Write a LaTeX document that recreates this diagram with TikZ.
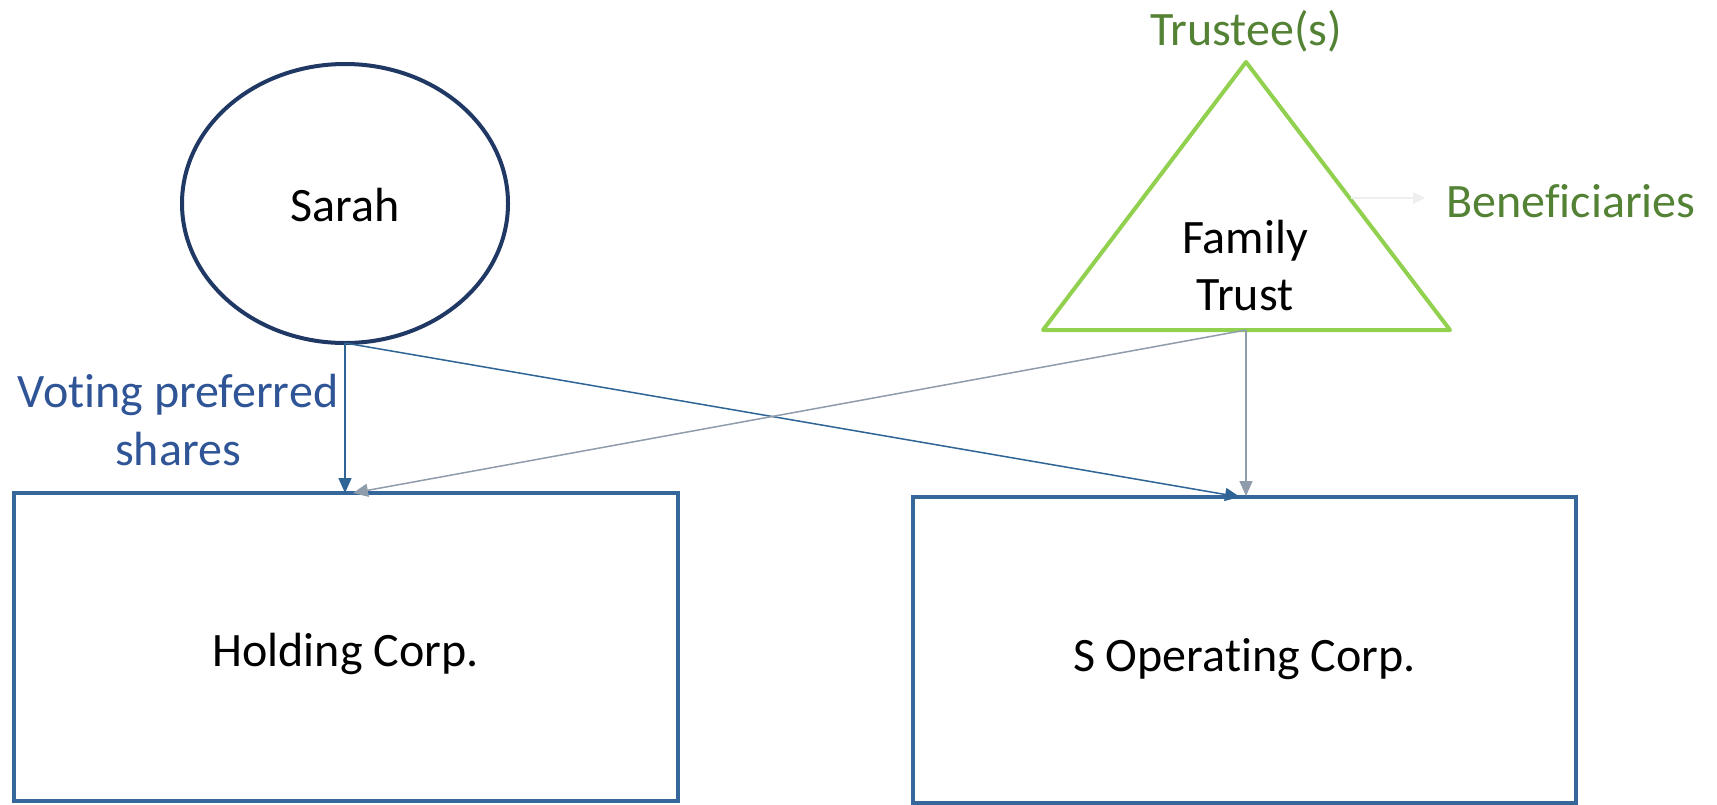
\documentclass[tikz,border=0pt]{standalone}
\usepackage{fontspec}
\setmainfont{Carlito}[Ligatures=NoCommon]
\usetikzlibrary{arrows.meta,shapes.geometric}

\definecolor{navy}{HTML}{203864}
\definecolor{boxblue}{HTML}{35679A}
\definecolor{linkblue}{HTML}{2F6497}
\definecolor{linkgray}{HTML}{8F9CAB}
\definecolor{trustgreen}{HTML}{92D050}
\definecolor{labelgreen}{HTML}{548235}
\definecolor{labelblue}{HTML}{2F5597}
\definecolor{faint}{HTML}{EFEFEF}

\tikzset{
  entity/.style={draw=boxblue, line width=2pt, minimum width=332pt, minimum height=154pt, inner sep=0pt, outer sep=0pt},
  person/.style={draw=navy, line width=2pt, ellipse, minimum width=163pt, minimum height=139.5pt, inner sep=0pt, outer sep=0pt},
  txt/.style={font=\fontsize{24}{28.5}\selectfont, align=center, inner sep=0pt},
  bluelink/.style={draw=linkblue, line width=0.75pt, -{Triangle[length=7.5pt,width=6.5pt]}},
  graylink/.style={draw=linkgray, line width=0.75pt, -{Triangle[length=7.5pt,width=6.5pt]}},
}

\begin{document}
\begin{tikzpicture}[x=0.5pt, y=-0.5pt]
  \useasboundingbox[fill=white] (0,0) rectangle (1717,804);

  % shareholder
  \node[person] (sarah) at (345,203.5) {};
  \node[txt] (sarahlbl) at (345,205) {Sarah};

  % family trust
  \coordinate (apex) at (1246,62);
  \coordinate (bl) at (1043,330);
  \coordinate (br) at (1450,330);
  \draw[trustgreen, line width=2pt, line join=round] (apex) -- (br) -- (bl) -- cycle;
  \node[txt] (trust) at (1245,266) {Family\\Trust};
  \coordinate (trustbase) at (1246,330);
  \node[txt, text=labelgreen] (trustees) at (1246,31) {Trustee(s)};
  \node[txt, text=labelgreen, anchor=west] (benef) at (1446,201) {Beneficiaries};
  \coordinate (benefstart) at (1351,198);
  \coordinate (benefend) at (1425,198);
  \draw[faint, line width=0.6pt, -{Triangle[length=6pt,width=6pt]}] (benefstart) -- (benefend);

  % corporations
  \node[entity] (holding) at (345.5,647) {};
  \node[txt] (holdinglbl) at (345.5,654) {Holding Corp.};
  \node[entity, minimum width=331.5pt, minimum height=153pt] (opco) at (1244.5,649.5) {};
  \node[txt] (opcolbl) at (1244.5,659) {S Operating Corp.};

  \node[txt, text=labelblue] (voting) at (178,420) {Voting preferred\\shares};

  % arrow tips on the top edges of the two corporations
  \coordinate (holdtipA) at (345,493);
  \coordinate (holdtipB) at (353,493);
  \coordinate (opcotipA) at (1240,497);
  \coordinate (opcotipB) at (1246,496);

  % ownership links
  \draw[bluelink] (sarah.south) -- (holdtipA);
  \draw[bluelink] (sarah.south) -- (opcotipA);
  \draw[graylink] (trustbase) -- (opcotipB);
  \draw[graylink] (trustbase) -- (holdtipB);
\end{tikzpicture}
\end{document}
